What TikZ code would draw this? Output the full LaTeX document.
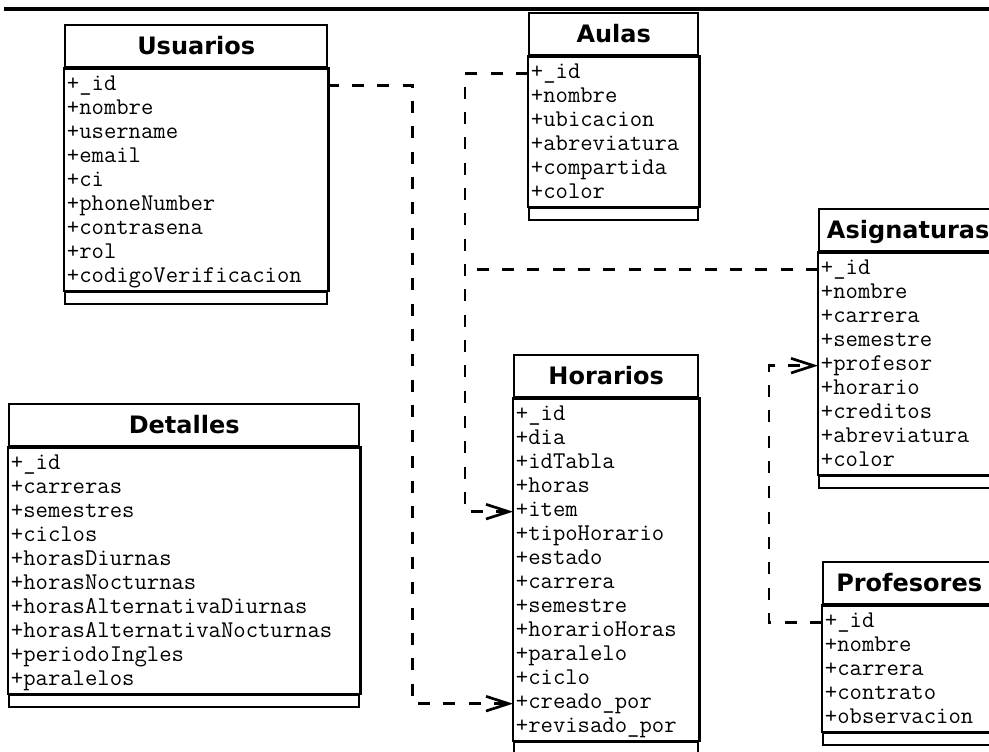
\documentclass[tikz,border=0pt]{standalone}
\usepackage{fontspec}
\newfontfamily\titlefont{DejaVu Sans}
\usetikzlibrary{arrows.meta}
% una clase: nombre, x, y, ancho (px), titulo, atributos
\newcommand\umlclass[6]{%
  \pgfmathsetlengthmacro\clsw{#4*0.75pt}%
  \pgfmathsetlengthmacro\clstw{#4*0.75pt-4pt}%
  \node[classhead, minimum width=\clsw, anchor=north west] (#1) at (#2,#3) {#5};
  \foreach \a [count=\i] in {#6}{
    \node[classrow, text width=\clstw, anchor=north west]
      (#1-\i) at ([yshift=-3.75pt-(\i-1)*18pt]#1.south west) {\a};
    \xdef\lastrow{\i}
  }
  \node[classfoot, minimum width=\clsw, anchor=north west] (#1-foot) at ([yshift=-0.75pt]#1-\lastrow.south west) {};
  \draw[classline] (#1.south west) rectangle (#1-foot.north east);
}

\begin{document}
\begin{tikzpicture}[x=0.75pt,y=-0.75pt,>={Straight Barb[length=17pt,width=11pt,line width=2pt]}]
\tikzset{classline/.style = {line width=1.8pt},
  classhead/.style = {draw, line width=1.8pt, minimum height=31.5pt, inner sep=0pt,
    font=\titlefont\bfseries\fontsize{18}{21}\selectfont, text height=13pt, text depth=0pt},
  classrow/.style = {inner xsep=2pt, inner ysep=0pt, minimum height=18pt, align=left,
    font=\ttfamily\fontsize{18}{20}\selectfont, text height=11pt, text depth=3.2pt},
  classfoot/.style = {draw, line width=1.8pt, minimum height=9pt, inner sep=0pt},
  dep/.style = {line width=2.2pt, dash pattern=on 9pt off 10pt}}
  \useasboundingbox (0,0) rectangle (989,752);
  \clip (0,0) rectangle (989,752);
  \draw[line width=2.5pt] (4,9) -- (989,9);
  % clases
  \umlclass{usu}{64}{24}{262}{Usuarios}{+\_id,+nombre,+username,+email,+ci,+phoneNumber,+contrasena,+rol,+codigoVerificacion}
  \umlclass{aul}{528}{12}{169}{Aulas}{+\_id,+nombre,+ubicacion,+abreviatura,+compartida,+color}
  \umlclass{asi}{818}{208}{178}{Asignaturas}{+\_id,+nombre,+carrera,+semestre,+profesor,+horario,+creditos,+abreviatura,+color}
  \umlclass{det}{8}{403}{350}{Detalles}{+\_id,+carreras,+semestres,+ciclos,+horasDiurnas,+horasNocturnas,+horasAlternativaDiurnas,+horasAlternativaNocturnas,+periodoIngles,+paralelos}
  \umlclass{hor}{513}{354}{184}{Horarios}{+\_id,+dia,+idTabla,+horas,+item,+tipoHorario,+estado,+carrera,+semestre,+horarioHoras,+paralelo,+ciclo,+creado\_por,+revisado\_por}
  \umlclass{pro}{822}{561}{172}{Profesores}{+\_id,+nombre,+carrera,+contrato,+observacion}
  % relaciones
  \draw[dep,->] (usu-1.east) -- ++(86,0) |- (hor-13.west);
  \draw[dep,->] (aul-1.west) -- ++(-63,0) coordinate (aul-bend) |- (hor-5.west);
  \draw[dep] (asi-1.west) -- (asi-1.west -| aul-bend);
  \draw[dep,->] (pro-1.west) -- ++(-53,0) |- (asi-5.west);
\end{tikzpicture}
\end{document}
